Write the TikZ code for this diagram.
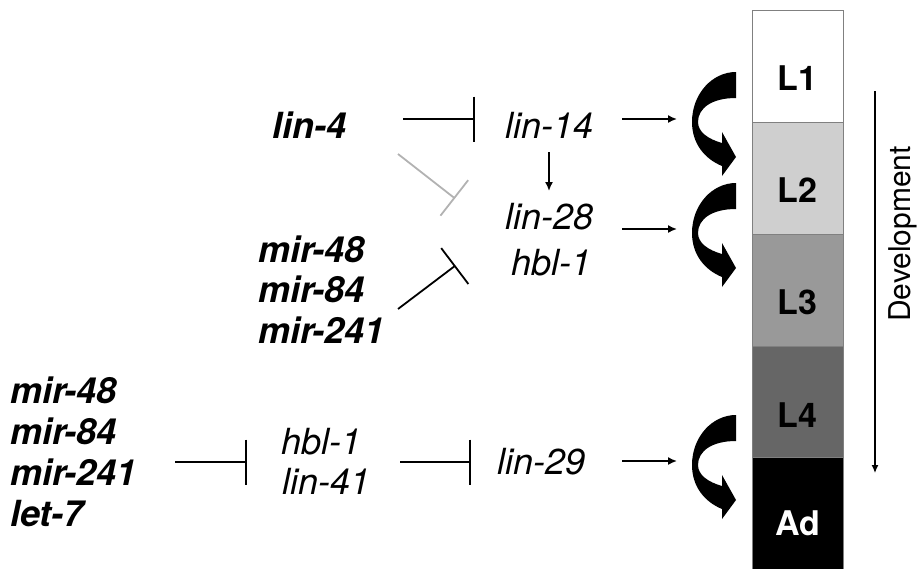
\documentclass[tikz,border=0pt]{standalone}
\usepackage{fontspec}
\setmainfont{TeX Gyre Heros}
\usetikzlibrary{arrows.meta}

\definecolor{stageA}{gray}{1.0}
\definecolor{stageB}{gray}{0.81}
\definecolor{stageC}{gray}{0.60}
\definecolor{stageD}{gray}{0.40}
\definecolor{stageE}{gray}{0.0}
\definecolor{edgegray}{gray}{0.50}
\definecolor{faintgray}{gray}{0.70}

\tikzset{
  mirna/.style={font=\fontsize{36}{40}\selectfont\bfseries\itshape, inner sep=0pt, anchor=west},
  gene/.style={font=\fontsize{36}{40}\selectfont\itshape, inner sep=0pt, anchor=west},
  stagebox/.style={draw=edgegray, line width=1pt, minimum width=91pt, minimum height=112pt,
                   inner sep=0pt, anchor=north west},
  stagelabel/.style={font=\fontsize{34}{38}\selectfont\bfseries, inner sep=0pt},
  inhibit/.style={line width=1.8pt, -{Bar[width=45pt,line width=1.8pt]}},
  activate/.style={line width=1.6pt, -{Latex[length=9pt,width=8pt]}},
  curlyarrow/.pic={
    \fill[black] (0,0) .. controls (-24,0) and (-44,22) .. (-44,50)
      .. controls (-44,72) and (-31,87) .. (-14,94)
      -- (-14,104) -- (0,85) -- (-14,60) -- (-14,71)
      .. controls (-28,67) and (-38,60) .. (-38,50)
      .. controls (-38,36) and (-24,26) .. (0,26) -- cycle;
  }
}

\begin{document}
\begin{tikzpicture}[x=1pt, y=-1pt]
\useasboundingbox (0,0) rectangle (924,568);

% developmental stages
\node[stagebox, fill=stageA] (L1) at (752,10)  {};
\node[stagebox, fill=stageB] (L2) at (752,122) {};
\node[stagebox, fill=stageC] (L3) at (752,234) {};
\node[stagebox, fill=stageD] (L4) at (752,346) {};
\node[stagebox, fill=stageE, minimum height=124pt] (Ad) at (752,457) {};
\node[stagelabel] (L1t) at (797.5,78)  {L1};
\node[stagelabel] (L2t) at (797.5,190) {L2};
\node[stagelabel] (L3t) at (797.5,302) {L3};
\node[stagelabel] (L4t) at (797.5,415) {L4};
\node[stagelabel, text=white] (Adt) at (797.5,523) {Ad};

% developmental time axis
\coordinate (devtop) at (875,91);
\coordinate (devbot) at (875,473);
\draw[line width=1.3pt, -{Latex[length=8pt,width=7pt]}] (devtop) -- (devbot);
\node[rotate=90, font=\fontsize{30}{34}\selectfont, inner sep=0pt] (dev) at (903,234) {Development};

% stage transitions
\pic at (736,72) {curlyarrow};
\pic at (736,183) {curlyarrow};
\pic at (736,415) {curlyarrow};

% upper pathway
\node[mirna] (lin4) at (272,125) {lin-4};
\node[gene] (lin14) at (505,125) {lin-14};
\node[gene] (lin28) at (505,217) {lin-28};
\node[gene] (hblA) at (511,263) {hbl-1};
\node[mirna] (mirA) at (258,249) {mir-48};
\node[mirna] (mirB) at (258,289) {mir-84};
\node[mirna] (mirC) at (258,330) {mir-241};

\coordinate (i1s) at (403,119);
\coordinate (i1e) at (475,119);
\draw[inhibit] (i1s) -- (i1e);

\coordinate (i2s) at (398,154);
\coordinate (i2e) at (455,198.5);
\draw[inhibit, draw=faintgray] (i2s) -- (i2e);

\coordinate (i3s) at (398,309);
\coordinate (i3e) at (455.5,265.5);
\draw[inhibit] (i3s) -- (i3e);

\coordinate (a1s) at (549,152);
\coordinate (a1e) at (549,191);
\draw[activate] (a1s) -- (a1e);

\coordinate (r1s) at (622,119);
\coordinate (r1e) at (677,119);
\draw[activate] (r1s) -- (r1e);
\coordinate (r2s) at (622,229);
\coordinate (r2e) at (677,229);
\draw[activate] (r2s) -- (r2e);

% lower pathway
\node[mirna] (mirD) at (10,390) {mir-48};
\node[mirna] (mirE) at (10,431) {mir-84};
\node[mirna] (mirF) at (10,472) {mir-241};
\node[mirna] (let7) at (10,514) {let-7};
\node[gene] (hblB) at (281,442) {hbl-1};
\node[gene] (lin41) at (282,481) {lin-41};
\node[gene] (lin29) at (497,462) {lin-29};

\coordinate (i4s) at (175,462);
\coordinate (i4e) at (247,462);
\draw[inhibit] (i4s) -- (i4e);
\coordinate (i5s) at (400,462);
\coordinate (i5e) at (471,462);
\draw[inhibit] (i5s) -- (i5e);

\coordinate (r3s) at (622,461);
\coordinate (r3e) at (677,461);
\draw[activate] (r3s) -- (r3e);
\end{tikzpicture}
\end{document}
